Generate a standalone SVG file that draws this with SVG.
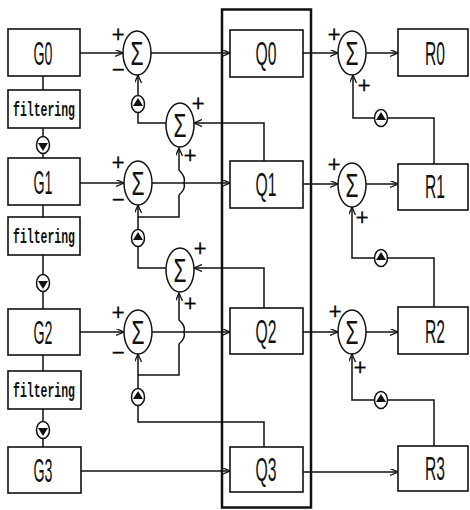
<svg xmlns="http://www.w3.org/2000/svg" width="470" height="510" viewBox="0 0 470 510">
<style>
.box{fill:#fff;stroke:#111;stroke-width:1.6}
.ln{fill:none;stroke:#111;stroke-width:1.5}
.ar{fill:none;stroke:#111;stroke-width:1.5;marker-end:url(#ah)}
.sum{fill:#fff;stroke:#111;stroke-width:1.5}
.sig{font-family:"Liberation Sans",sans-serif;font-size:33px;fill:#111;text-anchor:middle}
.lbl{font-family:"Liberation Sans",sans-serif;font-size:33px;fill:#111;text-anchor:middle}
.flt{font-family:"Liberation Mono",monospace;font-size:21px;font-weight:bold;fill:#111;text-anchor:middle}
.pm{font-family:"DejaVu Sans",sans-serif;font-size:17px;fill:#000;stroke:#000;stroke-width:0.4;text-anchor:middle}
.op{fill:#fff;stroke:#111;stroke-width:1.5}
.tri{fill:#111}
</style>
<defs>
<marker id="ah" markerUnits="userSpaceOnUse" markerWidth="10" markerHeight="8" refX="8" refY="3.5" orient="auto">
<path d="M0,0 L8,3.5 L0,7" fill="none" stroke="#111" stroke-width="1.3"/>
</marker>
<g id="up"><ellipse cx="0" cy="0" rx="6.5" ry="8.5" class="op"/><polygon points="0,-6 -5,2 5,2" class="tri"/></g>
<g id="dn"><ellipse cx="0" cy="0" rx="6.5" ry="8.5" class="op"/><polygon points="0,6 -5,-2 5,-2" class="tri"/></g>
</defs>

<rect id="frame" x="222" y="9.5" width="89" height="498" fill="none" stroke="#111" stroke-width="2.5"/>

<g id="connectors">
<path class="ln" d="M43,76 V90 M43,128 V158 M43,205 V217 M43,255 V309 M43,355 V371 M43,409 V447"/>
<path class="ar" d="M80,53 H123"/>
<path class="ar" d="M151,53 H230"/>
<path class="ar" d="M303,53 H338"/>
<path class="ar" d="M366,53 H398"/>
<path class="ar" d="M80,183 H124"/>
<path class="ar" d="M152,183 H230"/>
<path class="ar" d="M303,184 H338"/>
<path class="ar" d="M366,184 H398"/>
<path class="ar" d="M80,332 H124"/>
<path class="ar" d="M152,332 H230"/>
<path class="ar" d="M303,332 H338"/>
<path class="ar" d="M366,332 H398"/>
<path class="ar" d="M81,471 H230"/>
<path class="ar" d="M303,472 H398"/>
<path class="ar" d="M264,161 V123 H194"/>
<path class="ar" d="M166,123 H138 V75"/>
<path class="ar" d="M264,308 V268 H194"/>
<path class="ar" d="M166,268 H138 V205"/>
<path class="ar" d="M138,217 H179 V195 Q186,189 184,183 Q186,177 179,170 V148"/>
<path class="ar" d="M264,447 V422 H138 V354"/>
<path class="ar" d="M138,375 H179 V344 Q186,338 184,332 Q186,326 179,320 V293"/>
<path class="ar" d="M434,164 V118 H353 V75"/>
<path class="ar" d="M434,307 V258 H352 V207"/>
<path class="ar" d="M434,446 V400 H352 V354"/>
<use href="#up" x="138" y="104"/>
<use href="#up" x="138" y="238"/>
<use href="#up" x="138" y="397"/>
<use href="#up" x="381" y="118"/>
<use href="#up" x="381" y="258"/>
<use href="#up" x="381" y="400"/>
<use href="#dn" x="43" y="145"/>
<use href="#dn" x="43" y="283"/>
<use href="#dn" x="43" y="430"/>
</g>

<g id="G0"><rect class="box" x="8" y="29" width="72" height="47"/><text class="lbl" x="43" y="65" textLength="19" lengthAdjust="spacingAndGlyphs">G0</text></g>
<g id="F0"><rect class="box" x="8" y="90" width="72" height="38"/><text class="flt" x="44" y="116" textLength="62" lengthAdjust="spacingAndGlyphs">filtering</text></g>
<g id="G1"><rect class="box" x="8" y="158" width="72" height="47"/><text class="lbl" x="43" y="194" textLength="19" lengthAdjust="spacingAndGlyphs">G1</text></g>
<g id="F1"><rect class="box" x="8" y="217" width="72" height="38"/><text class="flt" x="44" y="243" textLength="62" lengthAdjust="spacingAndGlyphs">filtering</text></g>
<g id="G2"><rect class="box" x="8" y="309" width="72" height="46"/><text class="lbl" x="43" y="344" textLength="19" lengthAdjust="spacingAndGlyphs">G2</text></g>
<g id="F2"><rect class="box" x="8" y="371" width="73" height="38"/><text class="flt" x="44" y="397" textLength="62" lengthAdjust="spacingAndGlyphs">filtering</text></g>
<g id="G3"><rect class="box" x="8" y="447" width="73" height="46"/><text class="lbl" x="43" y="482" textLength="19" lengthAdjust="spacingAndGlyphs">G3</text></g>

<g id="Q0"><rect class="box" x="230" y="30" width="73" height="47"/><text class="lbl" x="266" y="65" textLength="21" lengthAdjust="spacingAndGlyphs">Q0</text></g>
<g id="Q1"><rect class="box" x="230" y="161" width="73" height="47"/><text class="lbl" x="266" y="196" textLength="21" lengthAdjust="spacingAndGlyphs">Q1</text></g>
<g id="Q2"><rect class="box" x="230" y="308" width="73" height="46"/><text class="lbl" x="266" y="343" textLength="21" lengthAdjust="spacingAndGlyphs">Q2</text></g>
<g id="Q3"><rect class="box" x="230" y="447" width="73" height="45"/><text class="lbl" x="266" y="481" textLength="21" lengthAdjust="spacingAndGlyphs">Q3</text></g>

<g id="R0"><rect class="box" x="398" y="29" width="70" height="47"/><text class="lbl" x="435" y="65" textLength="20" lengthAdjust="spacingAndGlyphs">R0</text></g>
<g id="R1"><rect class="box" x="398" y="164" width="70" height="46"/><text class="lbl" x="435" y="198" textLength="20" lengthAdjust="spacingAndGlyphs">R1</text></g>
<g id="R2"><rect class="box" x="398" y="307" width="70" height="47"/><text class="lbl" x="435" y="343" textLength="20" lengthAdjust="spacingAndGlyphs">R2</text></g>
<g id="R3"><rect class="box" x="398" y="446" width="70" height="45"/><text class="lbl" x="435" y="480" textLength="20" lengthAdjust="spacingAndGlyphs">R3</text></g>

<g id="S0"><ellipse class="sum" cx="137" cy="53" rx="14" ry="22"/><text class="sig" x="137" y="65" textLength="13" lengthAdjust="spacingAndGlyphs">Σ</text><text class="pm" x="118" y="40">+</text><text class="pm" x="118" y="75">−</text></g>
<g id="S1"><ellipse class="sum" cx="138" cy="183" rx="14" ry="22"/><text class="sig" x="138" y="195" textLength="13" lengthAdjust="spacingAndGlyphs">Σ</text><text class="pm" x="118" y="168">+</text><text class="pm" x="118" y="205">−</text></g>
<g id="S2"><ellipse class="sum" cx="138" cy="332" rx="14" ry="22"/><text class="sig" x="138" y="344" textLength="13" lengthAdjust="spacingAndGlyphs">Σ</text><text class="pm" x="118" y="318">+</text><text class="pm" x="118" y="358">−</text></g>
<g id="P0"><ellipse class="sum" cx="180" cy="125" rx="14" ry="22"/><text class="sig" x="180" y="137" textLength="13" lengthAdjust="spacingAndGlyphs">Σ</text><text class="pm" x="198" y="109">+</text><text class="pm" x="190" y="161">+</text></g>
<g id="P1"><ellipse class="sum" cx="180" cy="270" rx="14" ry="22"/><text class="sig" x="180" y="282" textLength="13" lengthAdjust="spacingAndGlyphs">Σ</text><text class="pm" x="200" y="254">+</text><text class="pm" x="190" y="309">+</text></g>
<g id="T0"><ellipse class="sum" cx="352" cy="53" rx="14" ry="22"/><text class="sig" x="352" y="65" textLength="13" lengthAdjust="spacingAndGlyphs">Σ</text><text class="pm" x="334" y="40">+</text><text class="pm" x="364" y="91">+</text></g>
<g id="T1"><ellipse class="sum" cx="352" cy="185" rx="14" ry="22"/><text class="sig" x="352" y="197" textLength="13" lengthAdjust="spacingAndGlyphs">Σ</text><text class="pm" x="334" y="170">+</text><text class="pm" x="362" y="223">+</text></g>
<g id="T2"><ellipse class="sum" cx="352" cy="332" rx="14" ry="22"/><text class="sig" x="352" y="344" textLength="13" lengthAdjust="spacingAndGlyphs">Σ</text><text class="pm" x="335" y="317">+</text><text class="pm" x="360" y="373">+</text></g>
</svg>
